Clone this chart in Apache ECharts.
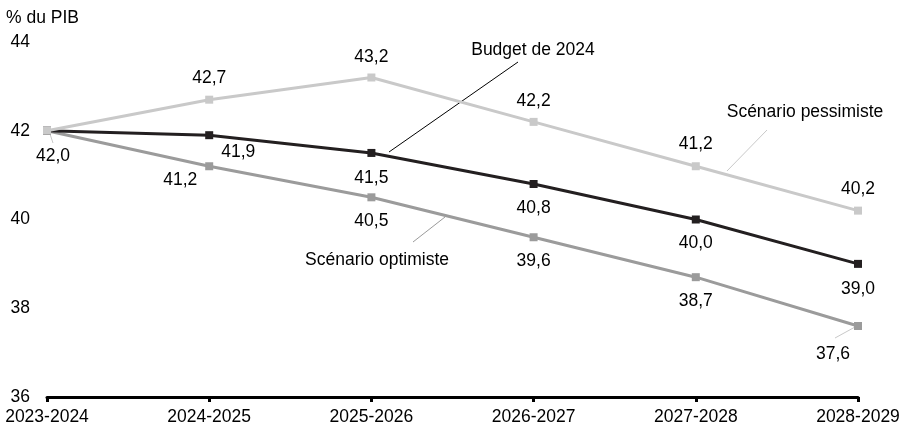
<!DOCTYPE html>
<html>
<head>
<meta charset="utf-8">
<script src="https://cdn.jsdelivr.net/npm/echarts@6/dist/echarts.min.js"></script>
<style>
html,body{margin:0;padding:0;background:#fff;}
#c{width:908px;height:431px;}
</style>
</head>
<body>
<div id="c"></div>
<script>
const categories = ['2023-2024','2024-2025','2025-2026','2026-2027','2027-2028','2028-2029'];
const budget = [42.0, 41.9, 41.5, 40.8, 40.0, 39.0];
const optimiste = [42.0, 41.2, 40.5, 39.6, 38.7, 37.6];
const pessimiste = [42.0, 42.7, 43.2, 42.2, 41.2, 40.2];
const yTicks = [36, 38, 40, 42, 44];

const FONT = 'Liberation Sans, Arial, sans-serif';
const FS = 17.5;
const fmt = v => v.toFixed(1).replace('.', ',');

// label placement per point (style only)
const budgetLabels = [
  {position:'bottom', distance:11, offset:[6,1]},
  {position:'bottom', distance:11, offset:[29,-7]},
  {position:'bottom', distance:11, offset:[0,1]},
  {position:'bottom', distance:11, offset:[0,0]},
  {position:'bottom', distance:11, offset:[0,0]},
  {position:'bottom', distance:11, offset:[0,1]}
];
const optLabels = [
  {show:false},
  {position:'bottom', distance:11, offset:[-29,-10]},
  {position:'bottom', distance:11, offset:[0,0]},
  {position:'bottom', distance:11, offset:[0,0]},
  {position:'bottom', distance:11, offset:[0,0]},
  {position:'bottom', distance:11, offset:[-25,4]}
];
const pesLabels = [
  {show:false},
  {position:'top', offset:[0,-1]},
  {position:'top', offset:[0,1]},
  {position:'top', offset:[0,0]},
  {position:'top', offset:[0,-1]},
  {position:'top', offset:[0,0]}
];

function build(values, labels) {
  return values.map((v, i) => ({value: v, label: Object.assign({show:true}, labels[i])}));
}

function series(name, values, labels, color, z) {
  return {
    name, type:'line', data: build(values, labels), z,
    symbol:'rect', symbolSize:8, showSymbol:true,
    lineStyle:{color, width:3},
    itemStyle:{color},
    label:{
      show:true, distance:8, color:'#000', fontFamily:FONT, fontSize:FS,
      formatter: p => fmt(p.value)
    },
    emphasis:{disabled:true},
    animation:false
  };
}

const chart = echarts.init(document.getElementById('c'), null, {renderer:'canvas'});
const txt = {fill:'#000', font: FS + 'px ' + FONT};
chart.setOption({
  backgroundColor:'#fff',
  animation:false,
  grid:{left:47, right:50, top:42, bottom:34, containLabel:false},
  xAxis:{
    type:'category', data:categories, boundaryGap:false,
    axisLine:{lineStyle:{color:'#000', width:3}},
    axisTick:{show:true, length:5, lineStyle:{color:'#000', width:3}},
    axisLabel:{color:'#000', fontFamily:FONT, fontSize:FS, margin:11, interval:0},
    splitLine:{show:false}
  },
  yAxis:{
    type:'value', min:yTicks[0], max:yTicks[yTicks.length-1], interval:2,
    axisLine:{show:false}, axisTick:{show:false}, splitLine:{show:false},
    axisLabel:{color:'#000', fontFamily:FONT, fontSize:FS, margin:17}
  },
  series:[
    series('Scénario optimiste', optimiste, optLabels, '#9b9b9b', 2),
    series('Budget de 2024', budget, budgetLabels, '#231f20', 3),
    series('Scénario pessimiste', pessimiste, pesLabels, '#c9c9c9', 4)
  ],
  graphic:[
    {type:'text', left:6, top:9, style:Object.assign({text:'% du PIB'}, txt)},
    {type:'text', x:533, y:50, style:Object.assign({text:'Budget de 2024', textAlign:'center', textVerticalAlign:'middle'}, txt)},
    {type:'line', shape:{x1:389, y1:152, x2:518, y2:62}, style:{stroke:'#000', lineWidth:1}},
    {type:'text', x:805, y:112, style:Object.assign({text:'Scénario pessimiste', textAlign:'center', textVerticalAlign:'middle'}, txt)},
    {type:'line', shape:{x1:727, y1:171, x2:767, y2:130}, style:{stroke:'#c9c9c9', lineWidth:1}},
    {type:'text', x:377, y:260, style:Object.assign({text:'Scénario optimiste', textAlign:'center', textVerticalAlign:'middle'}, txt)},
    {type:'line', shape:{x1:413, y1:242, x2:445, y2:217}, style:{stroke:'#9b9b9b', lineWidth:1}},
    {type:'line', shape:{x1:50, y1:134, x2:53, y2:143}, style:{stroke:'#c9c9c9', lineWidth:1}},
    {type:'line', shape:{x1:835, y1:338, x2:855, y2:327}, style:{stroke:'#c9c9c9', lineWidth:1}}
  ]
});
</script>
</body>
</html>
